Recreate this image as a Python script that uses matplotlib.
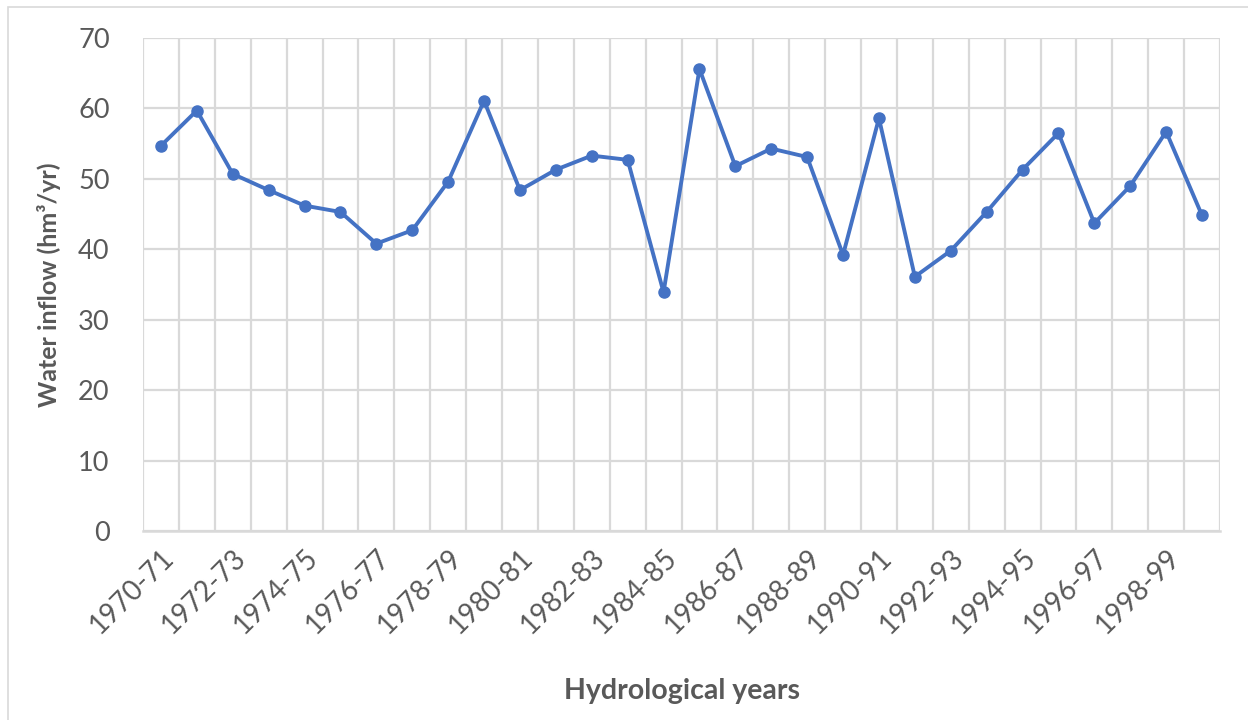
import matplotlib.pyplot as plt
import matplotlib
from matplotlib.ticker import MultipleLocator, FixedLocator
from matplotlib.patches import Rectangle

matplotlib.rcParams['font.family'] = ['Lato', 'DejaVu Sans']

years = ['%d-%02d' % (y, (y + 1) % 100) for y in range(1970, 2000)]
inflow = [54.7, 59.7, 50.7, 48.4, 46.2, 45.3, 40.8, 42.7, 49.6, 61.1,
          48.4, 51.3, 53.3, 52.7, 33.9, 65.6, 51.8, 54.3, 53.1, 39.2,
          58.6, 36.1, 39.8, 45.3, 51.3, 56.5, 43.7, 49.0, 56.7, 44.8]

grey = '#595959'
gridc = '#D9D9D9'

fig = plt.figure(figsize=(12.48, 7.2), dpi=100)
ax = fig.add_axes([143 / 1248, 1 - 531 / 720, (1220 - 143) / 1248, (531 - 38) / 720])

# thin frame around the chart area (only top/left visible in the reference)
fig.patches.append(Rectangle((8 / 1248, -0.1), 1.2, 1 - 7 / 720 + 0.1,
                             transform=fig.transFigure, fill=False,
                             edgecolor='#D9D9D9', linewidth=1.2))

x = list(range(len(years)))
ax.plot(x, inflow, color='#4472C4', linewidth=2.8, marker='o', markersize=8, zorder=3)

ax.set_xlim(-0.5, len(years) - 0.5)
ax.set_ylim(0, 70)
ax.yaxis.set_major_locator(MultipleLocator(10))

# category labels on every other year, vertical grid at the category borders
ax.set_xticks(x[::2])
ax.set_xticklabels(years[::2], rotation=45, ha='right', rotation_mode='anchor')
ax.xaxis.set_minor_locator(FixedLocator([i - 0.5 for i in range(len(years) + 1)]))
ax.grid(which='minor', axis='x', color=gridc, linewidth=1.6)
ax.grid(which='major', axis='y', color=gridc, linewidth=1.6)
ax.set_axisbelow(True)

for s in ax.spines.values():
    s.set_visible(False)
ax.spines['bottom'].set_visible(True)
ax.spines['bottom'].set_color(gridc)
ax.spines['bottom'].set_linewidth(1.8)

ax.tick_params(axis='both', which='both', length=0, colors=grey)
ax.tick_params(axis='x', labelsize=20, pad=10)
ax.tick_params(axis='y', labelsize=19.5, pad=24)

ax.set_ylabel('Water inflow (hm³/yr)', fontsize=18, fontweight='bold', color=grey, labelpad=12)
ax.set_xlabel('Hydrological years', fontsize=20.5, fontweight='bold', color=grey, labelpad=28)

plt.savefig('out.png', dpi=100, facecolor='white')
